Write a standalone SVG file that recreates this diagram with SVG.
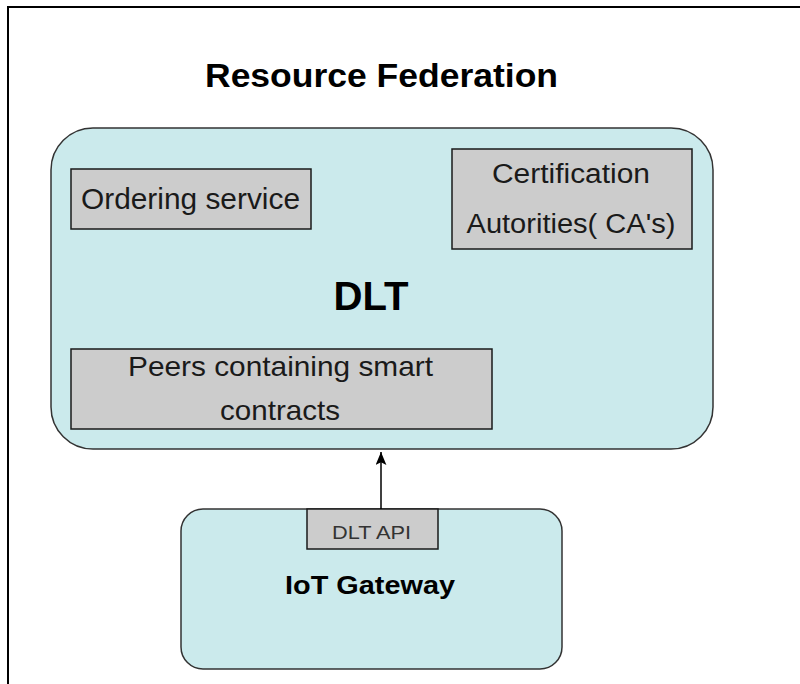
<svg xmlns="http://www.w3.org/2000/svg" width="800" height="684" viewBox="0 0 800 684">
<defs>
<style>
.t{font-family:"Liberation Sans",Arial,sans-serif;fill:#1a1a1a;text-anchor:middle}
.b{font-weight:bold;fill:#000}
.cont{fill:#cbeaec;stroke:#333;stroke-width:1.5}
.comp{fill:#cccccc;stroke:#1a1a1a;stroke-width:1.5}
</style>
<marker id="ah" viewBox="0 0 12 10" refX="12" refY="5" markerWidth="13" markerHeight="11" markerUnits="userSpaceOnUse" orient="auto">
<path d="M0,0 L12,5 L0,10 L2.5,5 z" fill="#000"/>
</marker>
</defs>
<rect width="800" height="684" fill="#fff"/>
<path d="M8,700 L8,7 L810,7" fill="none" stroke="#000" stroke-width="2"/>
<text class="t b" x="381.5" y="87" font-size="34" textLength="353" lengthAdjust="spacingAndGlyphs">Resource Federation</text>
<g id="dlt">
<rect class="cont" x="51" y="128" width="662" height="321" rx="42" ry="42"/>
<text class="t b" x="371" y="310" font-size="41" textLength="75" lengthAdjust="spacingAndGlyphs">DLT</text>
</g>
<g id="ordering">
<rect class="comp" x="71" y="169" width="240" height="60"/>
<text class="t" x="190.5" y="209" font-size="29" textLength="219" lengthAdjust="spacingAndGlyphs">Ordering service</text>
</g>
<g id="ca">
<rect class="comp" x="452" y="149" width="240" height="100"/>
<text class="t" x="571" y="183" font-size="27" textLength="158" lengthAdjust="spacingAndGlyphs">Certification</text>
<text class="t" x="571" y="233" font-size="27" textLength="209" lengthAdjust="spacingAndGlyphs">Autorities( CA's)</text>
</g>
<g id="peers">
<rect class="comp" x="71" y="349" width="421" height="80"/>
<text class="t" x="280.5" y="376" font-size="28" textLength="305" lengthAdjust="spacingAndGlyphs">Peers containing smart</text>
<text class="t" x="280" y="420" font-size="28" textLength="120" lengthAdjust="spacingAndGlyphs">contracts</text>
</g>
<g id="iot">
<rect class="cont" x="181" y="509" width="381" height="160" rx="22" ry="22"/>
<text class="t b" x="370" y="594" font-size="25" textLength="170" lengthAdjust="spacingAndGlyphs">IoT Gateway</text>
</g>
<g id="dltapi">
<rect class="comp" x="307" y="509" width="131" height="40"/>
<text class="t" x="371.5" y="539" font-size="19" style="fill:#333" textLength="79" lengthAdjust="spacingAndGlyphs">DLT API</text>
</g>
<g id="connectors">
<line x1="381" y1="509" x2="381" y2="452" stroke="#000" stroke-width="1.5" marker-end="url(#ah)"/>
</g>
</svg>
